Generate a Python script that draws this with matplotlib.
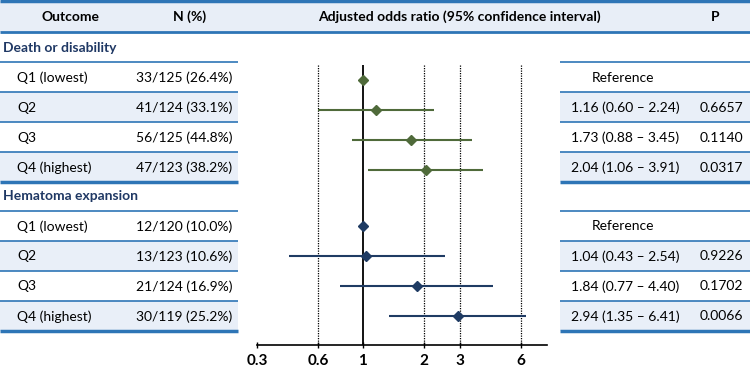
import matplotlib
matplotlib.use('Agg')
import matplotlib.pyplot as plt
from matplotlib.patches import Rectangle
from matplotlib.ticker import NullLocator

# ---------------- data ----------------
sections = ['Death or disability', 'Hematoma expansion']
quartiles = ['Q1 (lowest)', 'Q2', 'Q3', 'Q4 (highest)']
n_death = ['33/125 (26.4%)', '41/124 (33.1%)', '56/125 (44.8%)', '47/123 (38.2%)']
n_hem = ['12/120 (10.0%)', '13/123 (10.6%)', '21/124 (16.9%)', '30/119 (25.2%)']
or_death = [1.00, 1.16, 1.73, 2.04]
lo_death = [None, 0.60, 0.88, 1.06]
hi_death = [None, 2.24, 3.45, 3.91]
p_death = [None, '0.6657', '0.1140', '0.0317']
or_hem = [1.00, 1.04, 1.84, 2.94]
lo_hem = [None, 0.43, 0.77, 1.35]
hi_hem = [None, 2.54, 4.40, 6.41]
p_hem = [None, '0.9226', '0.1702', '0.0066']
tick_vals = [0.3, 0.6, 1, 2, 3, 6]
tick_labels = ['0.3', '0.6', '1', '2', '3', '6']
ref_lines = [0.6, 2, 3, 6]
headers = ['Outcome', 'N (%)', 'Adjusted odds ratio (95% confidence interval)', 'P']

# ---------------- style ----------------
plt.rcParams['font.family'] = ['Lato', 'DejaVu Sans']
FS = 10
W, H = 750, 368
LINE = '#2e75b6'
BAND = '#e8eef7'
SHADE = '#e9eff8'
NAVY = '#1f3864'
GREEN = '#4f6a3a'
BLUE = '#1f3b63'

fig = plt.figure(figsize=(7.5, 3.68), dpi=100)
tab = fig.add_axes([0, 0, 1, 1])
tab.set_xlim(0, W)
tab.set_ylim(H, 0)
tab.axis('off')

# header band
tab.add_patch(Rectangle((0, 1), W, 31, facecolor=BAND, edgecolor='none', zorder=0))
tab.plot([0, W], [1, 1], color=LINE, lw=2.5, solid_capstyle='butt')
tab.plot([0, W], [32, 32], color=LINE, lw=2, solid_capstyle='butt')
hx = [71, 190, 459, 715]
for x, t in zip(hx, headers):
    tab.text(x, 17, t, ha='center', va='center', fontsize=FS, fontweight='bold', color='black')

row_h = 30
blocks = [
    (sections[0], 48, 61.5, n_death, or_death, lo_death, hi_death, p_death, GREEN, 4.8, 3.5),
    (sections[1], 196, 210.5, n_hem, or_hem, lo_hem, hi_hem, p_hem, BLUE, 5.5, 0.0),
]

ax = fig.add_axes([257 / W, (H - 345) / H, 290 / W, 345 / H])
ax.set_xscale('log')
ax.set_xlim(0.3, 8.1)
ax.set_ylim(345, 0)
ax.patch.set_alpha(0)
for s in ['top', 'right', 'left']:
    ax.spines[s].set_visible(False)
ax.spines['bottom'].set_linewidth(1.2)
ax.set_yticks([])
ax.set_xticks(tick_vals)
ax.set_xticklabels(tick_labels, fontsize=11, fontweight='bold')
ax.xaxis.set_minor_locator(NullLocator())
ax.tick_params(axis='x', length=4, width=1, direction='inout', pad=4.5)
ax.vlines(ref_lines, 65, 345, colors='black', linestyles=(0, (1, 1)), lw=0.9)
ax.vlines(1, 65, 345, colors='black', lw=1.3)

for (title, ty, top, ns, ors, los, his, ps, col, ms, dy) in blocks:
    tab.text(3, ty, title, ha='left', va='center', fontsize=FS, fontweight='bold', color=NAVY)
    for i in range(4):
        y0 = top + i * row_h
        yc = y0 + row_h / 2
        if i % 2 == 1:
            tab.add_patch(Rectangle((0, y0), 238, row_h, facecolor=SHADE, edgecolor='none', zorder=0))
            tab.add_patch(Rectangle((560, y0), W - 560, row_h, facecolor=SHADE, edgecolor='none', zorder=0))
        ty_txt = yc + 1
        tab.text(17, ty_txt, quartiles[i], ha='left', va='center', fontsize=FS)
        tab.text(232, ty_txt, ns[i], ha='right', va='center', fontsize=FS)
        if los[i] is None:
            tab.text(592, ty_txt, 'Reference', ha='left', va='center', fontsize=FS)
        else:
            tab.text(571, ty_txt, f'{ors[i]:.2f} ({los[i]:.2f} \u2013 {his[i]:.2f})',
                     ha='left', va='center', fontsize=FS)
            tab.text(700, ty_txt, ps[i], ha='left', va='center', fontsize=FS)
            ax.hlines(yc + dy, los[i], his[i], colors=col, lw=1.5)
        ax.plot(ors[i], yc + dy, marker='D', ms=ms, color=col, mec=col, zorder=5)
    for k in range(5):
        yl = top + k * row_h
        lw = 2.5 if k == 4 else 1.2
        tab.plot([0, 238], [yl, yl], color=LINE, lw=lw, solid_capstyle='butt')
        tab.plot([560, W], [yl, yl], color=LINE, lw=lw, solid_capstyle='butt')

fig.savefig('out.png', dpi=100)
